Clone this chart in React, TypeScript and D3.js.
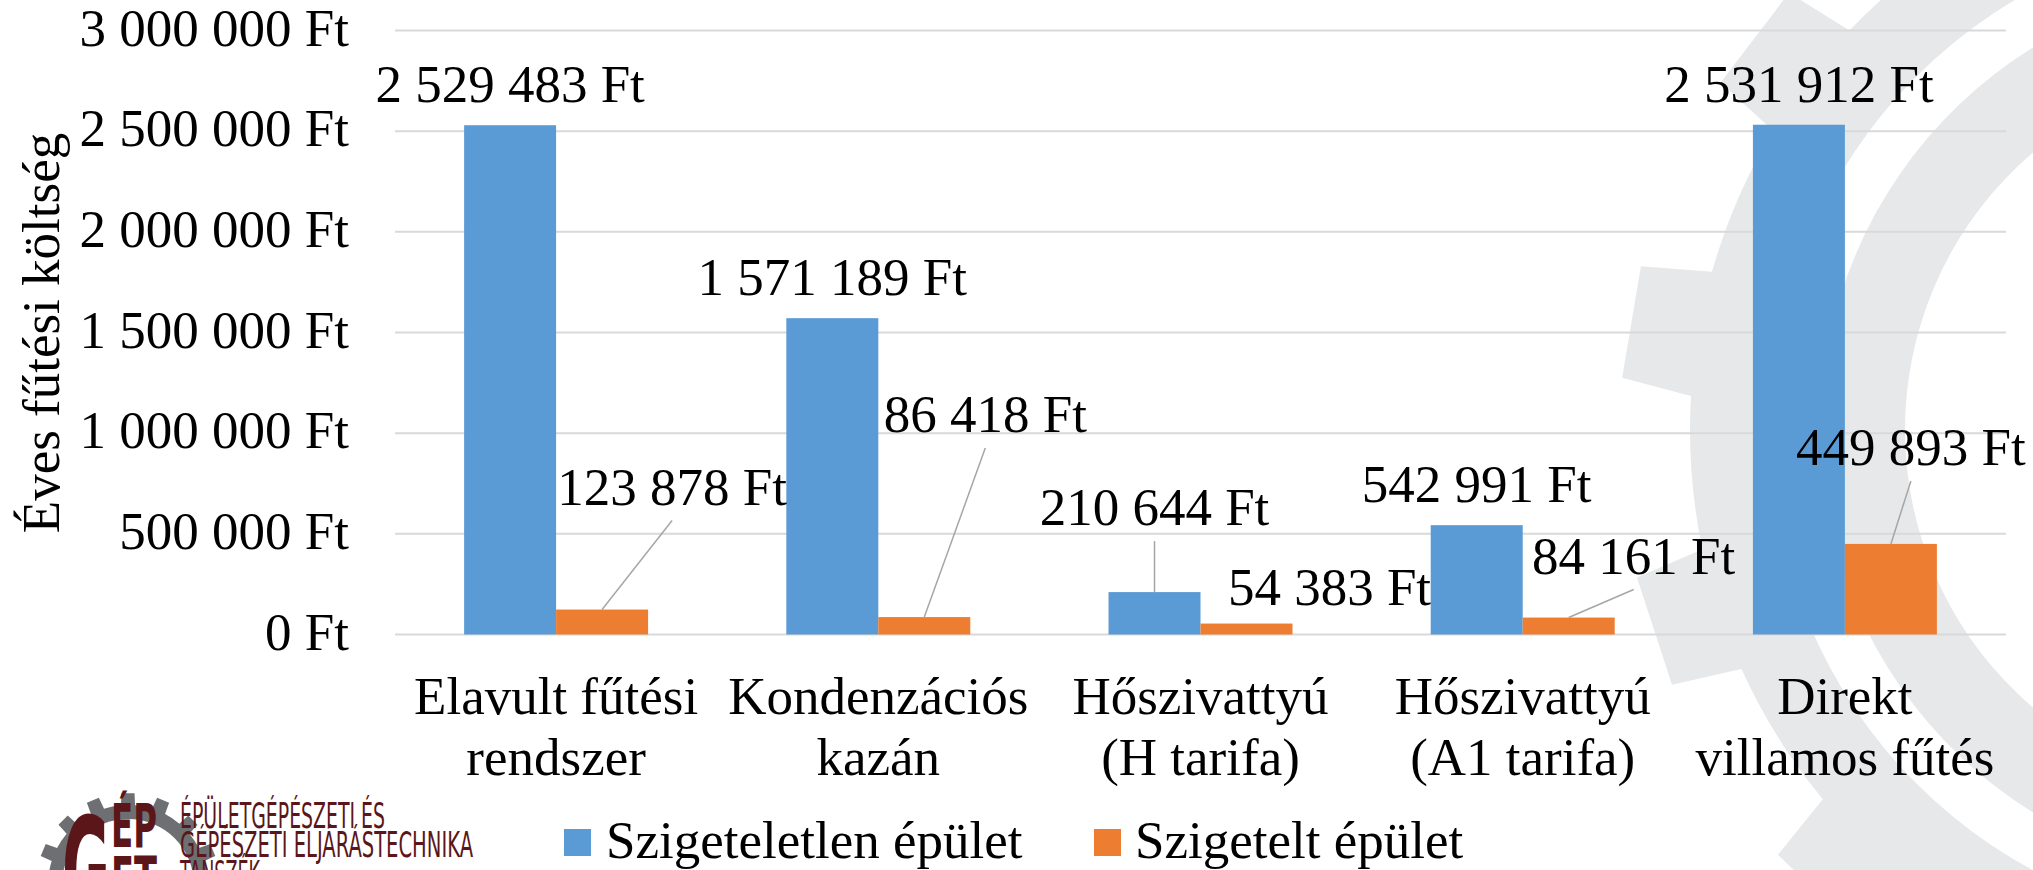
import React from 'react';
import * as d3 from 'd3';

// chart data
const categories: string[][] = [
  ['Elavult fűtési', 'rendszer'],
  ['Kondenzációs', 'kazán'],
  ['Hőszivattyú', '(H tarifa)'],
  ['Hőszivattyú', '(A1 tarifa)'],
  ['Direkt', 'villamos fűtés'],
];
const seriesNames = ['Szigeteletlen épület', 'Szigetelt épület'];
const uninsulated = [2529483, 1571189, 210644, 542991, 2531912];
const insulated = [123878, 86418, 54383, 84161, 449893];
const yTicks = [0, 500000, 1000000, 1500000, 2000000, 2500000, 3000000];
const axisTitle = 'Éves fűtési költség';

// label nudges (series, category) -> offset from bar top centre; leader = draw line
const labelNudges = [
  { s: 1, c: 0, dx: 70, dy: -105, leader: true },
  { s: 1, c: 1, dx: 61, dy: -185, leader: true },
  { s: 0, c: 2, dx: 0, dy: -67, leader: true },
  { s: 1, c: 2, dx: 83, dy: -19, leader: false },
  { s: 1, c: 3, dx: 65, dy: -44, leader: true },
  { s: 1, c: 4, dx: 20, dy: -79, leader: true },
];

const W = 2033;
const H = 870;
const COLORS = ['#5b9bd5', '#ed7d31'];
const FONT = "'Liberation Serif', 'Times New Roman', serif";
const FS = 53;
const LOGO_FONT = "'DejaVu Sans Condensed', 'DejaVu Sans', sans-serif";

const loc = d3.formatLocale({ decimal: ',', thousands: ' ', grouping: [3], currency: ['', ' Ft'] });
const fmt = (v: number) => loc.format(',.0f')(v) + ' Ft';

// gear outline: teeth around a root circle
function gearPath(cx: number, cy: number, rOut: number, rRoot: number, teeth: number, phase: number, toothFrac: number) {
  const p = d3.path();
  const step = (Math.PI * 2) / teeth;
  const half = (step * toothFrac) / 2;
  const tip = half * 0.8;
  for (let i = 0; i < teeth; i++) {
    const a = phase + i * step;
    const pts = [
      [rRoot, a - half],
      [rOut, a - tip],
      [rOut, a + tip],
      [rRoot, a + half],
    ];
    pts.forEach(([r, ang], j) => {
      const x = cx + r * Math.cos(ang);
      const y = cy + r * Math.sin(ang);
      if (i === 0 && j === 0) p.moveTo(x, y);
      else p.lineTo(x, y);
    });
    p.arc(cx, cy, rRoot, a + half, phase + (i + 1) * step - half, false);
  }
  p.closePath();
  return p.toString();
}

const Watermark: React.FC = () => {
  const cx = 2270;
  const cy = 430;
  const outer = gearPath(cx, cy, 650, 580, 13, (189.6 * Math.PI) / 180, 0.45);
  const gArc = d3.arc()({ innerRadius: 365, outerRadius: 450, startAngle: -Math.PI * 0.05, endAngle: -Math.PI * 1.08 }) as string;
  return (
    <g>
      <path d={outer} fill="#e7e8ea" />
      <circle cx={cx} cy={cy} r={500} fill="#ffffff" />
      <path d={gArc} transform={`translate(${cx},${cy})`} fill="#e7e8ea" />
    </g>
  );
};

const Logo: React.FC = () => {
  const maroon = '#5a1619';
  const cx = 128;
  const cy = 885;
  const gear = gearPath(cx, cy, 92, 80, 16, Math.PI, 0.45);
  return (
    <g>
      <path d={gear} fill="#6e6f72" />
      <circle cx={cx} cy={cy} r={66} fill="#ffffff" />
      <text x={62} y={925} fontFamily={LOGO_FONT} fontWeight="bold"
        fontSize={150} fill={maroon} textLength={48} lengthAdjust="spacingAndGlyphs">G</text>
      <text x={111} y={847} fontFamily={LOGO_FONT} fontWeight="bold"
        fontSize={60} fill={maroon} textLength={46} lengthAdjust="spacingAndGlyphs">ÉP</text>
      <text x={111} y={900} fontFamily={LOGO_FONT} fontWeight="bold"
        fontSize={60} fill={maroon} textLength={46} lengthAdjust="spacingAndGlyphs">ET</text>
      <g fontFamily={LOGO_FONT} fontSize={36} fill={maroon}>
        <text x={180} y={828} textLength={205} lengthAdjust="spacingAndGlyphs">ÉPÜLETGÉPÉSZETI ÉS</text>
        <text x={180} y={857} textLength={293} lengthAdjust="spacingAndGlyphs">GÉPÉSZETI ELJÁRÁSTECHNIKA</text>
        <text x={180} y={886} textLength={80} lengthAdjust="spacingAndGlyphs">TANSZÉK</text>
      </g>
    </g>
  );
};

const App: React.FC = () => {
  const left = 395;
  const right = 2006;
  const top = 30.5;
  const bottom = 634.5;

  const x0 = d3.scaleBand<number>().domain(d3.range(categories.length)).range([left, right])
    .paddingInner(0.429).paddingOuter(0.2145);
  const x1 = d3.scaleBand<number>().domain([0, 1]).range([0, x0.bandwidth()]);
  const y = d3.scaleLinear().domain([0, 3000000]).range([bottom, top]);
  const series = [uninsulated, insulated];

  const bars = series.flatMap((vals, s) => vals.map((v, c) => ({ s, c, v })));

  return (
    <svg width={W} height={H} style={{ position: 'absolute', left: 0, top: 0, background: '#fff' }}>
      <Watermark />
      {/* grid */}
      {yTicks.map((t) => (
        <line key={t} x1={left} x2={right} y1={y(t)} y2={y(t)} stroke="#d9d9d9" strokeWidth={2} />
      ))}
      {/* y tick labels */}
      <g fontFamily={FONT} fontSize={FS} fill="#000" textAnchor="end">
        {yTicks.map((t) => (
          <text key={t} x={349} y={y(t) + 15}>{fmt(t)}</text>
        ))}
      </g>
      <text transform={`translate(59,${(top + bottom) / 2 + 0.5}) rotate(-90)`} fontFamily={FONT} fontSize={FS}
        textAnchor="middle">{axisTitle}</text>
      {/* bars */}
      {bars.map((b) => (
        <rect key={`${b.s}-${b.c}`} x={(x0(b.c) as number) + (x1(b.s) as number)} y={y(b.v)}
          width={x1.bandwidth()} height={bottom - y(b.v)} fill={COLORS[b.s]} />
      ))}
      {/* data labels */}
      <g fontFamily={FONT} fontSize={FS} fill="#000" textAnchor="middle">
        {bars.map((b) => {
          const cxBar = (x0(b.c) as number) + (x1(b.s) as number) + x1.bandwidth() / 2;
          const topY = y(b.v);
          const n = labelNudges.find((d) => d.s === b.s && d.c === b.c);
          const dx = n ? n.dx : 0;
          const dy = n ? n.dy : -23;
          return (
            <g key={`l${b.s}-${b.c}`}>
              {n && n.leader && (
                <line x1={cxBar + dx} y1={topY + dy + 16} x2={cxBar} y2={topY} stroke="#a6a6a6" strokeWidth={1.5} />
              )}
              <text x={cxBar + dx} y={topY + dy}>{fmt(b.v)}</text>
            </g>
          );
        })}
      </g>
      {/* category labels */}
      <g fontFamily={FONT} fontSize={FS} fill="#000" textAnchor="middle">
        {categories.map((lines, c) => (
          <text key={c} x={(x0(c) as number) + x0.bandwidth() / 2} y={714}>
            {lines.map((ln, i) => (
              <tspan key={i} x={(x0(c) as number) + x0.bandwidth() / 2} y={714 + i * 61}>{ln}</tspan>
            ))}
          </text>
        ))}
      </g>
      {/* legend */}
      <g fontFamily={FONT} fontSize={FS}>
        <rect x={564} y={829} width={27} height={27} fill={COLORS[0]} />
        <text x={606} y={858}>{seriesNames[0]}</text>
        <rect x={1094} y={829} width={27} height={27} fill={COLORS[1]} />
        <text x={1135} y={858}>{seriesNames[1]}</text>
      </g>
      <Logo />
    </svg>
  );
};

export default App;
